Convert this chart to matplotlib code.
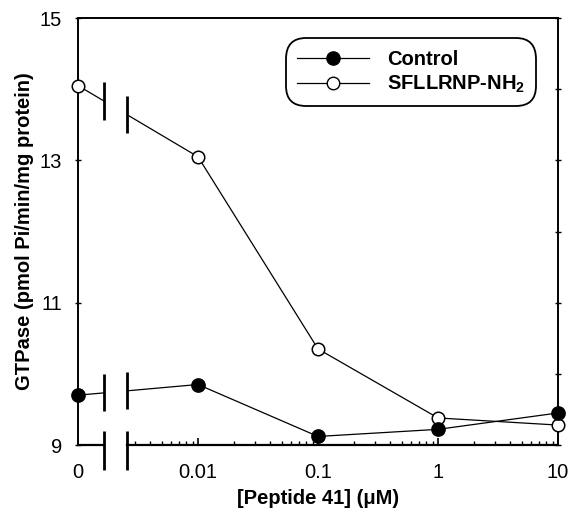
import numpy as np
import matplotlib
matplotlib.use("Agg")
import matplotlib.pyplot as plt
from matplotlib.ticker import FixedLocator, NullFormatter
from matplotlib.lines import Line2D

plt.rcParams['font.family'] = ['Liberation Sans', 'DejaVu Sans']
plt.rcParams['mathtext.fontset'] = 'custom'
plt.rcParams['mathtext.rm'] = 'Liberation Sans:bold'
plt.rcParams['mathtext.bf'] = 'Liberation Sans:bold'

# Data
conc = [0, 0.01, 0.1, 1, 10]
conc_labels = ["0", "0.01", "0.1", "1", "10"]
control = [9.70, 9.85, 9.12, 9.22, 9.45]
sfllrnp = [14.05, 13.05, 10.35, 9.38, 9.28]
yticks = [9, 11, 13, 15]

ZERO_POS = 1e-3          # where the "0" category sits on the log axis
BREAK = (10 ** -2.78, 10 ** -2.59)

fig = plt.figure(figsize=(5.68, 5.14), dpi=100)
ax = fig.add_axes([78 / 568, 1 - 445 / 514, 480 / 568, 427 / 514])
ax.set_xscale('log')
ax.set_xlim(ZERO_POS, 10)
ax.set_ylim(9, 15)

def xpos(v):
    return np.array([ZERO_POS if c == 0 else c for c in v], dtype=float)

def draw_series(vals, filled):
    x = xpos(conc)
    y = np.array(vals, dtype=float)
    lx = np.log10(x)
    def yat(b):
        t = (np.log10(b) - lx[0]) / (lx[1] - lx[0])
        return y[0] + t * (y[1] - y[0])
    y1, y2 = yat(BREAK[0]), yat(BREAK[1])
    ax.plot([x[0], BREAK[0]], [y[0], y1], color='black', lw=0.9, zorder=2)
    ax.plot(np.r_[BREAK[1], x[1:]], np.r_[y2, y[1:]], color='black', lw=0.9, zorder=2)
    for b, yy in zip(BREAK, (y1, y2)):
        ax.plot([b, b], [yy - 0.26, yy + 0.27], color='black', lw=2.0,
                solid_capstyle='butt', zorder=3)
    ax.plot(x, y, linestyle='none', marker='o', ms=9.5 if filled else 9,
            mfc='black' if filled else 'white', mec='black', mew=1.1, zorder=4,
            clip_on=False)

draw_series(sfllrnp, False)
draw_series(control, True)

# spines
for s in ['left', 'right', 'top']:
    ax.spines[s].set_linewidth(1.4)
ax.spines['bottom'].set_visible(False)
tr = ax.get_xaxis_transform()
ax.plot([ZERO_POS, BREAK[0]], [0, 0], color='black', lw=1.6, transform=tr, clip_on=False)
ax.plot([BREAK[1], 10], [0, 0], color='black', lw=1.6, transform=tr, clip_on=False)
for b in BREAK:
    ax.plot([b, b], [-0.058, 0.032], color='black', lw=2.0, transform=tr,
            clip_on=False, solid_capstyle='butt')

# ticks
ax.xaxis.set_major_locator(FixedLocator(list(xpos(conc))))
ax.set_xticklabels(conc_labels)
minor = [m * 10.0 ** e for e in (-3, -2, -1, 0) for m in range(2, 10)]
minor = [v for v in minor if v > BREAK[1]]
ax.xaxis.set_minor_locator(FixedLocator(minor))
ax.xaxis.set_minor_formatter(NullFormatter())
ax.tick_params(axis='x', which='major', direction='in', length=5, width=1.2,
               labelsize=14.5, pad=13)
ax.tick_params(axis='x', which='minor', direction='in', length=3, width=1.0)
ax.set_yticks(yticks)
ax.set_yticks(range(9, 16), minor=True)
ax.tick_params(axis='y', which='both', direction='inout', length=5, width=1.0,
               right=True, labelsize=14.5, pad=9)
ax.tick_params(axis='y', which='minor', left=False)
ax.tick_params(axis='x', which='both', top=False)
ax.get_xticklines()[0].set_visible(False)

ax.set_xlabel('[Peptide 41] (\u03bcM)', fontsize=14.5, fontweight='bold', labelpad=5)
ax.set_ylabel('GTPase (pmol Pi/min/mg protein)', fontsize=14.5, fontweight='bold', labelpad=4)

handles = [
    Line2D([], [], color='black', lw=0.9, marker='o', ms=9.5, mfc='black', mec='black'),
    Line2D([], [], color='black', lw=0.9, marker='o', ms=9, mfc='white', mec='black'),
]
leg = ax.legend(handles, ['Control', 'SFLLRNP-NH$_{2}$'], loc='upper right',
                bbox_to_anchor=(0.955, 0.952), frameon=True, fancybox=True,
                handlelength=3.6, handletextpad=0.9, borderpad=0.55, borderaxespad=0,
                labelspacing=0.25, prop={'weight': 'bold', 'size': 14.5})
fr = leg.get_frame()
fr.set_edgecolor('black')
fr.set_linewidth(1.3)
fr.set_boxstyle('round', pad=0.0, rounding_size=1.0)
fr.set_alpha(1)

fig.savefig('out.png', dpi=100)
